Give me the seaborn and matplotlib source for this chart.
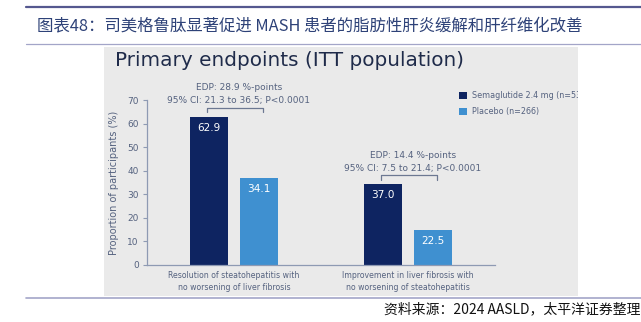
import matplotlib
matplotlib.use("Agg")
import matplotlib.pyplot as plt
import seaborn as sns
import pandas as pd
from matplotlib.patches import Rectangle
from matplotlib.lines import Line2D

# ---------------- data ----------------
categories = ["Resolution of steatohepatitis with\nno worsening of liver fibrosis",
              "Improvement in liver fibrosis with\nno worsening of steatohepatitis"]
groups = ["Semaglutide 2.4 mg (n=534)", "Placebo (n=266)"]
# values printed on the bars
sema_values = [62.9, 37.0]
placebo_values = [34.1, 22.5]
# bar heights as drawn in the source slide
sema_heights = [63.0, 34.2]
placebo_heights = [37.0, 14.8]
edp_labels = ["EDP: 28.9 %-points", "EDP: 14.4 %-points"]
ci_labels = ["95% CI: 21.3 to 36.5; P<0.0001", "95% CI: 7.5 to 21.4; P<0.0001"]
y_ticks = [0, 10, 20, 30, 40, 50, 60, 70]

cn_title = "图表48：司美格鲁肽显著促进 MASH 患者的脂肪性肝炎缓解和肝纤维化改善"
chart_title = "Primary endpoints (ITT population)"
y_label = "Proportion of participants (%)"
source_text = "资料来源：2024 AASLD，太平洋证券整理"

# ---------------- style ----------------
DARK = "#0E2461"
LIGHT = "#3F90D0"
PANEL = "#EAEAEA"
TXT = "#55627F"
SPINE = "#8E9AB3"

sns.set_theme(style="white")
plt.rcParams["font.family"] = ["DejaVu Sans", "Noto Sans CJK SC"]

W, H = 641, 322
fig = plt.figure(figsize=(W / 100, H / 100), dpi=100)
fig.patch.set_facecolor("white")


def fx(x):
    return x / W


def fy(y):
    return 1 - y / H


renderer = fig.canvas.get_renderer()


def fit(t, target):
    w = t.get_window_extent(renderer).width
    t.set_fontsize(t.get_fontsize() * target / w)


# decorative lines and panel
fig.add_artist(Line2D([fx(26), 1], [fy(7), fy(7)], color="#55588F", lw=1.6))
fig.add_artist(Line2D([fx(26), 1], [fy(44), fy(44)], color="#A3A5C8", lw=0.9))
fig.add_artist(Line2D([fx(26), 1], [fy(298), fy(298)], color="#A3A5C8", lw=1.2))
fig.patches.append(Rectangle((fx(104), fy(296)), fx(578 - 104), (296 - 47) / H,
                             transform=fig.transFigure, facecolor=PANEL,
                             edgecolor="none", zorder=-10))

t = fig.text(fx(37), fy(26), cn_title, ha="left", va="center", fontsize=12,
             color="#2E4278", family=["Noto Sans CJK SC", "DejaVu Sans"])
fit(t, 546)
t = fig.text(fx(115), fy(60), chart_title, ha="left", va="center", fontsize=14,
             color="#1F2B4A")
fit(t, 348)
t = fig.text(fx(640), fy(309), source_text, ha="right", va="center", fontsize=9,
             color="#111111", style="italic",
             family=["Noto Sans CJK SC", "DejaVu Sans"])
fit(t, 256)

# ---------------- axes ----------------
ax = fig.add_axes([fx(147), fy(265), fx(495 - 147), (265 - 100) / H])
ax.set_facecolor("none")

df = pd.DataFrame({
    "category": categories * 2,
    "group": [groups[0]] * 2 + [groups[1]] * 2,
    "height": sema_heights + placebo_heights,
})
sns.barplot(data=df, x="category", y="height", hue="group", order=categories,
            hue_order=groups, palette=[DARK, LIGHT], width=0.57, gap=0.23,
            saturation=1, errorbar=None, legend=False, linewidth=0,
            edgecolor="none", ax=ax)

ax.set_xlim(-0.5, 1.5)
ax.set_ylim(0, 70)
ax.set_yticks(y_ticks)
ax.set_xlabel("")
ax.set_ylabel(y_label, color=TXT, fontsize=7.0, labelpad=6)
for s in ["top", "right"]:
    ax.spines[s].set_visible(False)
for s in ["left", "bottom"]:
    ax.spines[s].set_color(SPINE)
    ax.spines[s].set_linewidth(0.9)
ax.tick_params(axis="y", length=3, width=0.8, color=SPINE, labelcolor=TXT,
               labelsize=6.5, pad=3, left=True)
ax.tick_params(axis="x", length=0, labelcolor=TXT, labelsize=5.6, pad=4)
for lab in ax.get_xticklabels():
    lab.set_linespacing(1.55)

# value labels
for cont, vals in zip(ax.containers, [sema_values, placebo_values]):
    for bar, v in zip(cont, vals):
        ax.annotate(f"{v:.1f}", (bar.get_x() + bar.get_width() / 2, bar.get_height()),
                    xytext=(0, -8), textcoords="offset points", ha="center",
                    va="center", color="white", fontsize=7.6)

# brackets and EDP annotations
for i in range(len(categories)):
    b0 = ax.containers[0][i]
    b1 = ax.containers[1][i]
    c0 = b0.get_x() + b0.get_width() / 2 - 0.01
    c1 = b1.get_x() + b1.get_width() / 2 + 0.025
    top = max(b0.get_height(), b1.get_height()) + 3.8
    ax.plot([c0, c0, c1, c1], [top - 1.8, top, top, top - 1.8], color="#6C7892",
            lw=0.9, clip_on=False)
    xc = (c0 + c1) / 2 + 0.02
    ax.annotate(ci_labels[i], (xc, top), xytext=(0, 4.8), textcoords="offset points",
                ha="center", va="center", color=TXT, fontsize=6.5, annotation_clip=False)
    ax.annotate(edp_labels[i], (xc, top), xytext=(0, 14.2), textcoords="offset points",
                ha="center", va="center", color=TXT, fontsize=6.5, annotation_clip=False)

# legend
handles = [Rectangle((0, 0), 1, 1, facecolor=c, edgecolor="none") for c in [DARK, LIGHT]]
leg = ax.legend(handles, groups, loc="upper left",
                bbox_to_anchor=(fx(459), fy(91)), bbox_transform=fig.transFigure,
                frameon=False, fontsize=5.8, handlelength=1.0, handleheight=1.0,
                handletextpad=0.6, labelspacing=0.9, borderpad=0, borderaxespad=0)
for txt in leg.get_texts():
    txt.set_color(TXT)

# panel right edge cuts the legend text
fig.add_artist(Rectangle((fx(578), fy(296)), 1 - fx(578), (296 - 47) / H,
                         transform=fig.transFigure, facecolor="white",
                         edgecolor="none", zorder=20))

fig.savefig("out.png", dpi=100)
